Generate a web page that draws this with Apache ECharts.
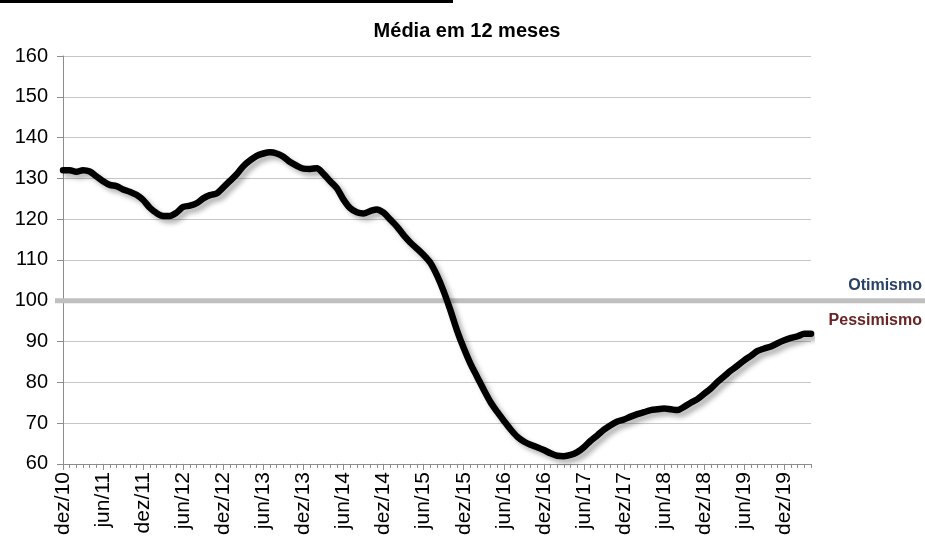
<!DOCTYPE html>
<html>
<head>
<meta charset="utf-8">
<script src="https://cdn.jsdelivr.net/npm/echarts@6/dist/echarts.min.js"></script>
<style>html,body{margin:0;padding:0;background:#fff}#c{width:925px;height:538px}</style>
</head>
<body>
<div id="c"></div>
<script>
var monthNames = ['jan','fev','mar','abr','mai','jun','jul','ago','set','out','nov','dez'];
var startMonth = 11, startYear = 2010, monthCount = 113;
var categories = [];
for (var k = 0; k < monthCount; k++) {
  var m = (startMonth + k) % 12;
  var y = startYear + Math.floor((startMonth + k) / 12);
  categories.push(monthNames[m] + '/' + String(y).slice(2));
}
var values = [
  132.0,132.0,131.6,132.0,131.7,130.5,129.3,128.4,128.1,127.3,126.7,126.0,
  124.7,122.8,121.5,120.8,120.8,121.6,123.0,123.3,123.9,125.1,125.9,126.3,
  127.8,129.4,131.0,133.0,134.4,135.5,136.1,136.4,136.1,135.3,134.0,133.1,
  132.4,132.3,132.5,131.1,129.3,127.6,124.8,122.7,121.7,121.4,122.0,122.4,
  121.6,119.9,118.2,116.1,114.3,112.8,111.2,109.3,106.2,102.3,97.7,92.7,
  88.4,84.6,81.4,78.2,75.2,72.8,70.6,68.5,66.7,65.5,64.7,64.1,
  63.4,62.6,62.0,61.9,62.2,62.9,64.1,65.7,67.0,68.4,69.5,70.4,
  70.9,71.6,72.2,72.7,73.2,73.4,73.6,73.4,73.2,74.0,75.0,75.9,
  77.2,78.5,80.1,81.5,82.9,84.1,85.4,86.5,87.7,88.3,88.8,89.6,
  90.3,90.9,91.3,91.9,91.9
];
var yTicks = {min: 60, max: 160, interval: 10};
var neutralLevel = 100;
var titleText = 'Média em 12 meses';
var upperLabel = 'Otimismo';
var lowerLabel = 'Pessimismo';

var chart = echarts.init(document.getElementById('c'));
var font = 'Liberation Sans, Arial, sans-serif';
var option = {
  animation: false,
  title: {
    text: titleText, left: 462, top: 16, textAlign: 'center',
    textStyle: {fontFamily: font, fontSize: 20, fontWeight: 'bold', color: '#000'}
  },
  grid: {left: 63, right: 114, top: 56, bottom: 74},
  xAxis: [{
    type: 'category', data: categories, boundaryGap: false,
    axisLine: {lineStyle: {color: '#8c8c8c', width: 1}},
    axisTick: {interval: 5, length: 6, lineStyle: {color: '#8c8c8c'}},
    axisLabel: {interval: 5, rotate: 90, fontFamily: font, fontSize: 21, color: '#000', margin: 8},
    splitLine: {show: false}
  }, {
    type: 'category', data: categories, boundaryGap: false, position: 'bottom',
    axisLine: {show: false},
    axisTick: {interval: 0, length: 4, lineStyle: {color: '#8c8c8c'}},
    axisLabel: {show: false},
    splitLine: {show: false}
  }],
  yAxis: {
    type: 'value', min: yTicks.min, max: yTicks.max, interval: yTicks.interval,
    axisLine: {show: true, lineStyle: {color: '#8c8c8c'}},
    axisTick: {show: true, length: 6, lineStyle: {color: '#8c8c8c'}},
    axisLabel: {fontFamily: font, fontSize: 20, color: '#000', margin: 15},
    splitLine: {lineStyle: {color: '#c6c6c6', width: 1}}
  },
  series: [{
    type: 'line', data: values, xAxisIndex: 0, smooth: 0.3, symbol: 'none',
    lineStyle: {color: '#000', width: 6.5, cap: 'round', join: 'round',
      shadowColor: 'rgba(0,0,0,0.3)', shadowBlur: 5, shadowOffsetX: 4, shadowOffsetY: 4},
    z: 5
  }]
};
chart.setOption(option);

var yLevel = chart.convertToPixel({yAxisIndex: 0}, neutralLevel);
var xStart = chart.convertToPixel({xAxisIndex: 0}, 0);
chart.setOption({
  graphic: [
    {type: 'rect', shape: {x: 0, y: 0, width: 453, height: 3}, style: {fill: '#000'}},
    {type: 'line', z: 3, shape: {x1: xStart - 8, y1: yLevel, x2: 925, y2: yLevel},
      style: {stroke: '#bfbfbf', lineWidth: 5}},
    {type: 'text', z: 4, style: {text: upperLabel, x: 922, y: yLevel - 15, align: 'right', verticalAlign: 'middle',
      font: 'bold 16px Liberation Sans, Arial, sans-serif', fill: '#2a4168'}},
    {type: 'text', z: 4, style: {text: lowerLabel, x: 922, y: yLevel + 20, align: 'right', verticalAlign: 'middle',
      font: 'bold 16px Liberation Sans, Arial, sans-serif', fill: '#6b2425'}}
  ]
});
</script>
</body>
</html>
